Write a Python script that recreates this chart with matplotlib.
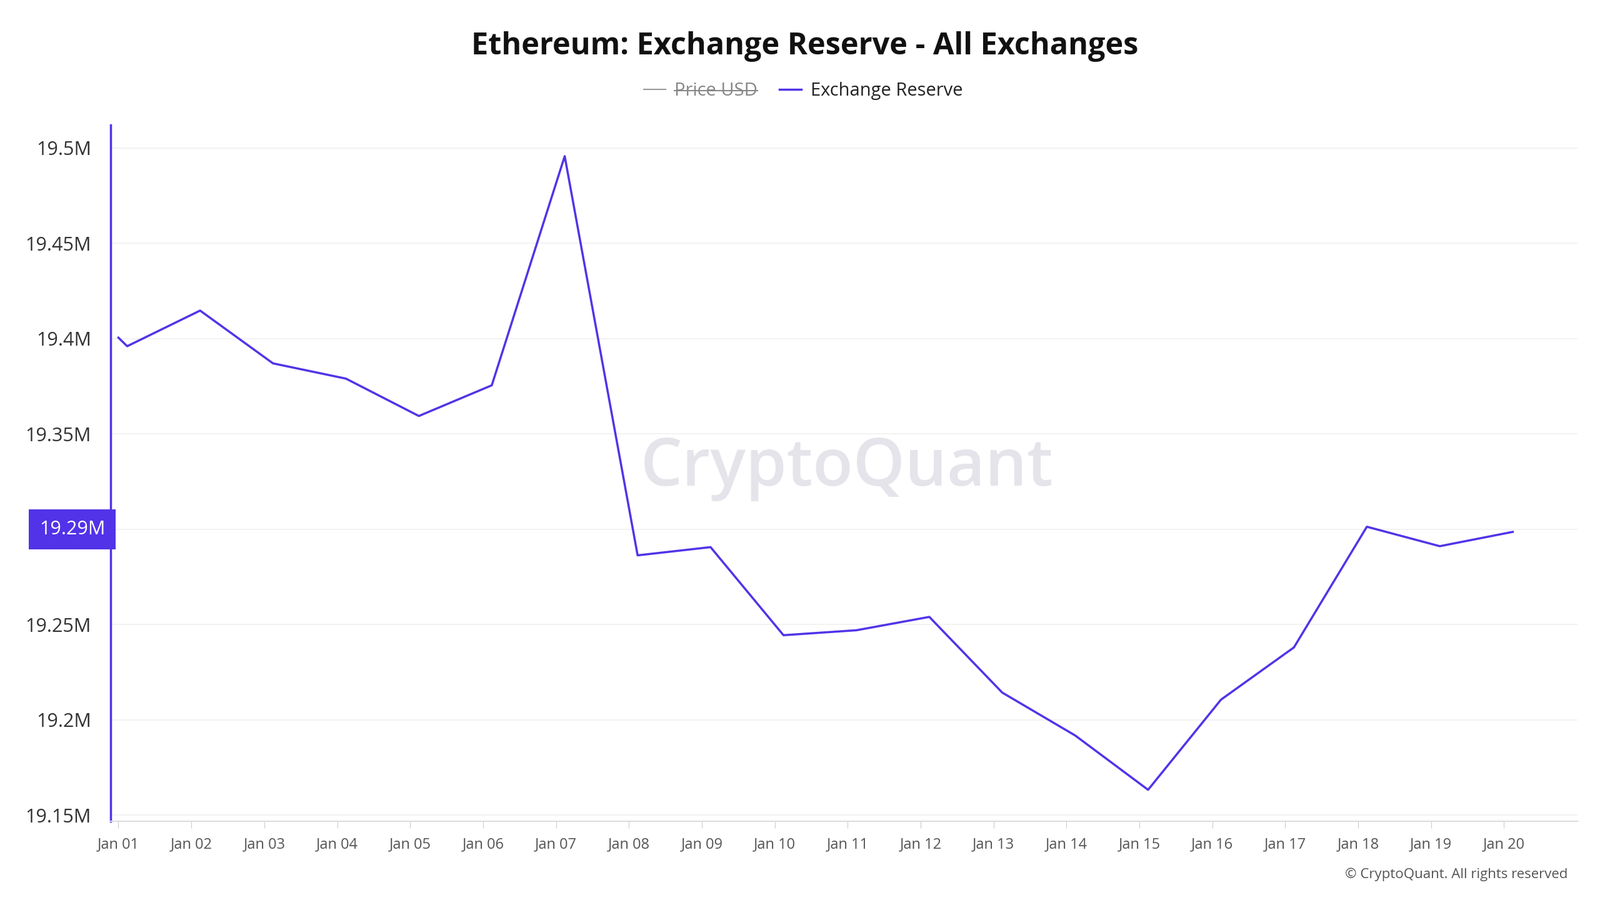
import matplotlib
matplotlib.use("Agg")
import matplotlib.pyplot as plt
from matplotlib.lines import Line2D

days = [0.0] + [i + 0.12 for i in range(20)]
reserve = [19.4005, 19.396, 19.4147, 19.387, 19.379, 19.3594, 19.3755, 19.4957, 19.2863,
           19.2906, 19.2444, 19.247, 19.254, 19.2143, 19.1918, 19.1633, 19.2106, 19.238,
           19.3013, 19.2911, 19.2986]
xticklabels = [f"Jan {d:02d}" for d in range(1, 21)]
yticks = [19.15, 19.2, 19.25, 19.3, 19.35, 19.4, 19.45, 19.5]
ylabels = ["19.15M", "19.2M", "19.25M", "", "19.35M", "19.4M", "19.45M", "19.5M"]
highlight_value = 19.3
highlight_label = "19.29M"

purple = "#5233e8"
plt.rcParams["font.family"] = "Open Sans"
fig = plt.figure(figsize=(25.6, 14.4), dpi=100)
ax = fig.add_axes([0.069, 0.0875, 0.917, 0.7735])
ax.plot(days, reserve, color=purple, lw=2.5)
ax.set_xlim(-0.11, 20.01)
ax.set_ylim(19.1468, 19.512)
ax.set_yticks(yticks)
ax.set_yticklabels(ylabels, fontsize=22, color="#333333")
ax.set_xticks(range(20))
ax.set_xticklabels(xticklabels, fontsize=17, color="#555555")
ax.tick_params(axis="y", length=0, pad=22)
ax.tick_params(axis="x", length=8, color="#cccccc", pad=10)
ax.grid(axis="y", color="#f0f0f0", lw=1.2)
for s in ["top", "right"]:
    ax.spines[s].set_visible(False)
ax.spines["left"].set_color(purple)
ax.spines["left"].set_linewidth(2.5)
ax.spines["bottom"].set_color("#dddddd")
ax.spines["bottom"].set_linewidth(1.5)

ax.text(-0.0035, highlight_value, highlight_label, transform=ax.get_yaxis_transform(),
        ha="right", va="center", fontsize=22, color="white",
        bbox=dict(boxstyle="square,pad=0.55", fc=purple, ec="none"))

ax.text(0.502, 0.507, "CryptoQuant", transform=ax.transAxes, ha="center", va="center",
        fontsize=76, fontweight="semibold", color="#e4e4ea", zorder=0)

fig.text(0.503, 0.948, "Ethereum: Exchange Reserve - All Exchanges", ha="center", va="center",
         fontsize=35, fontweight="bold", color="#111111")

h1 = Line2D([], [], color="#999999", lw=1.5)
h2 = Line2D([], [], color=purple, lw=2.5)
leg = fig.legend([h1, h2], ["Price USD", "Exchange Reserve"], loc="center", bbox_to_anchor=(0.502, 0.899),
                 ncol=2, frameon=False, fontsize=21, handlelength=1.2, columnspacing=1.2, handletextpad=0.5)
t0 = leg.get_texts()[0]
t0.set_color("#888888")
fig.canvas.draw()
bb = t0.get_window_extent().transformed(fig.transFigure.inverted())
fig.add_artist(Line2D([bb.x0, bb.x1], [(bb.y0 + bb.y1) / 2] * 2, color="#888888", lw=1.5,
                      transform=fig.transFigure))
leg.get_texts()[1].set_color("#222222")

fig.text(0.98, 0.028, "© CryptoQuant. All rights reserved", ha="right", va="center",
         fontsize=16, color="#555555")
fig.savefig("out.png", dpi=100, facecolor="white")
